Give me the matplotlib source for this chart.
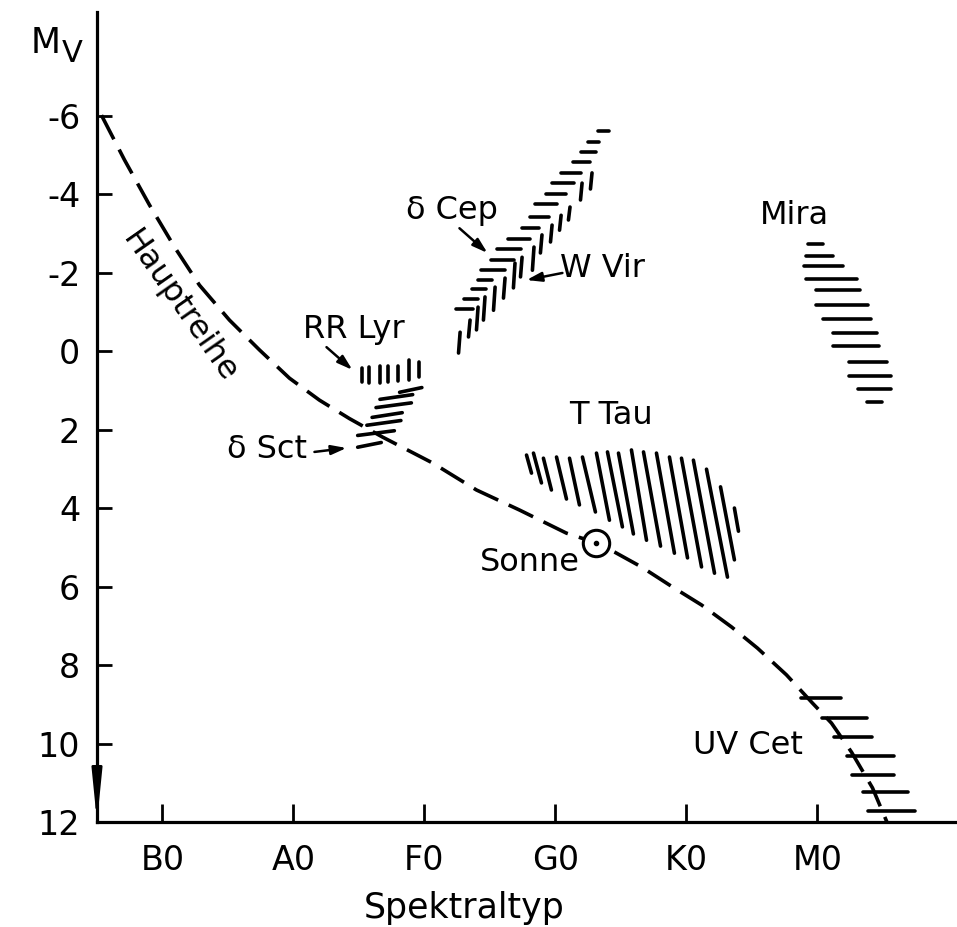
import numpy as np
import matplotlib
matplotlib.use("Agg")
import matplotlib.pyplot as plt
from matplotlib.collections import LineCollection

plt.rcParams['font.family'] = ['DejaVu Sans']
plt.rcParams['axes.unicode_minus'] = False

# ---------------- data ----------------
spectral_labels = ["B0", "A0", "F0", "G0", "K0", "M0"]
spectral_pos = [0, 1, 2, 3, 4, 5]
mag_ticks = [-6, -4, -2, 0, 2, 4, 6, 8, 10, 12]

# main sequence (Hauptreihe): spectral position, M_V
ms_x = [-0.466, -0.290, -0.099, 0.092, 0.282, 0.511, 0.740, 0.969, 1.198, 1.427,
        1.679, 2.061, 2.397, 2.725, 3.084, 3.313, 3.450, 3.656, 3.893, 4.115,
        4.344, 4.542, 4.763, 4.962, 5.107, 5.260, 5.420, 5.534]
ms_y = [-6.01, -4.87, -3.72, -2.65, -1.68, -0.79, -0.03, 0.69, 1.25, 1.72,
        2.19, 2.85, 3.54, 4.05, 4.64, 4.89, 5.12, 5.50, 6.01, 6.47,
        7.03, 7.57, 8.25, 8.97, 9.48, 10.22, 11.13, 12.03]

sun_x, sun_y = 3.313, 4.89

# RR Lyr: vertical strokes (x, top, bottom)
rr_x = [1.52, 1.58, 1.66, 1.72, 1.80, 1.88, 1.96]
rr_top = [0.43, 0.40, 0.38, 0.38, 0.38, 0.23, 0.28]
rr_bot = [0.79, 0.82, 0.82, 0.79, 0.76, 0.74, 0.66]

# delta Sct: horizontal strokes (x0, x1, y)
dsct_x0 = [1.81, 1.66, 1.63, 1.60, 1.56, 1.49, 1.49]
dsct_x1 = [1.98, 1.91, 1.90, 1.83, 1.82, 1.77, 1.67]
dsct_y = [0.99, 1.17, 1.38, 1.63, 1.83, 2.09, 2.39]

# delta Cep: horizontal strokes
dcep_x0 = [3.321, 3.252, 3.198, 3.130, 3.046, 2.977, 2.931, 2.840, 2.802,
           2.748, 2.634, 2.550, 2.504, 2.435, 2.405, 2.359, 2.298, 2.244]
dcep_x1 = [3.405, 3.336, 3.313, 3.267, 3.198, 3.145, 3.084, 3.015, 2.947,
           2.878, 2.802, 2.740, 2.687, 2.611, 2.519, 2.473, 2.405, 2.374]
dcep_y = [-5.61, -5.32, -5.07, -4.82, -4.54, -4.28, -4.00, -3.75, -3.41,
          -3.13, -2.85, -2.60, -2.32, -2.06, -1.81, -1.58, -1.32, -1.07]

# W Vir: vertical strokes (x, top, bottom)
wvir_x = [3.267, 3.191, 3.099, 3.031, 2.962, 2.885, 2.824, 2.733, 2.679,
          2.603, 2.527, 2.450, 2.397, 2.336, 2.260]
wvir_top = [-4.54, -4.28, -3.67, -3.46, -3.21, -2.96, -2.65, -2.39, -2.24,
            -1.86, -1.63, -1.38, -1.12, -0.79, -0.48]
wvir_bot = [-4.13, -3.85, -3.34, -3.08, -2.78, -2.50, -2.06, -1.89, -1.61,
            -1.35, -1.04, -0.79, -0.54, -0.36, 0.05]

# Mira: horizontal strokes
mira_x0 = [4.931, 4.916, 4.901, 4.916, 4.992, 4.992, 5.046, 5.122, 5.122,
           5.237, 5.237, 5.313, 5.382]
mira_x1 = [5.046, 5.115, 5.198, 5.305, 5.328, 5.389, 5.405, 5.458, 5.473,
           5.534, 5.565, 5.565, 5.496]
mira_y = [-2.73, -2.42, -2.17, -1.83, -1.55, -1.17, -0.81, -0.46, -0.13,
          0.28, 0.64, 0.97, 1.30]

# T Tau: slanted strokes (x0, y0) -> (x1, y1)
ttau_x0 = [2.779, 2.832, 2.908, 3.008, 3.107, 3.206, 3.313, 3.397, 3.481,
           3.580, 3.672, 3.771, 3.870, 3.962, 4.053, 4.153, 4.260, 4.366]
ttau_y0 = [2.65, 2.60, 2.73, 2.70, 2.73, 2.70, 2.60, 2.57, 2.60,
           2.52, 2.57, 2.60, 2.70, 2.73, 2.78, 3.01, 3.46, 4.00]
ttau_x1 = [2.817, 2.893, 2.969, 3.084, 3.183, 3.305, 3.412, 3.511, 3.595,
           3.695, 3.802, 3.908, 4.008, 4.115, 4.214, 4.313, 4.366, 4.397]
ttau_y1 = [3.11, 3.36, 3.54, 3.77, 3.92, 4.10, 4.31, 4.48, 4.66,
           4.82, 4.97, 5.15, 5.27, 5.50, 5.66, 5.76, 5.32, 4.59]

# UV Cet: horizontal strokes
uvcet_x0 = [4.878, 5.038, 5.130, 5.229, 5.267, 5.351, 5.389]
uvcet_x1 = [5.176, 5.382, 5.420, 5.588, 5.588, 5.695, 5.748]
uvcet_y = [8.84, 9.35, 9.83, 10.32, 10.80, 11.24, 11.72]

# ---------------- figure ----------------
fig = plt.figure(figsize=(9.57, 9.27), dpi=100)
ax = fig.add_axes([97/957, 1-822/927, 858/957, 810/927])
ax.set_xlim(-0.5, 6.05)
ax.set_ylim(12, -8.64)

LW = 2.6
for s in ['top', 'right']:
    ax.spines[s].set_visible(False)
for s in ['left', 'bottom']:
    ax.spines[s].set_linewidth(2.3)

ax.set_xticks(spectral_pos)
ax.set_xticklabels(spectral_labels)
ax.set_yticks(mag_ticks)
ax.set_yticklabels([str(t) for t in mag_ticks])
ax.tick_params(axis='x', direction='in', length=13, width=2, pad=16, labelsize=24)
ax.tick_params(axis='y', direction='in', length=11, width=2, pad=12, labelsize=24)

# main sequence
ms_line, = ax.plot(ms_x, ms_y, color='black', lw=LW, zorder=3)
ms_line.set_dashes([7.5, 3.2])

def hseg(x0, x1, y):
    return [[(a, c), (b, c)] for a, b, c in zip(x0, x1, y)]

def vseg(x, top, bot, tilt=0.012):
    return [[(a + tilt, t), (a, b)] for a, t, b in zip(x, top, bot)]

groups = [
    vseg(rr_x, rr_top, rr_bot, 0.0),
    [[(a, c + 0.06), (b, c - 0.06)] for a, b, c in zip(dsct_x0, dsct_x1, dsct_y)],
    hseg(dcep_x0, dcep_x1, dcep_y),
    vseg(wvir_x, wvir_top, wvir_bot),
    hseg(mira_x0, mira_x1, mira_y),
    [[(a, b), (c, d)] for a, b, c, d in zip(ttau_x0, ttau_y0, ttau_x1, ttau_y1)],
    hseg(uvcet_x0, uvcet_x1, uvcet_y),
]
for g in groups:
    ax.add_collection(LineCollection(g, colors='black', linewidths=LW,
                                     capstyle='round', zorder=4))

# sun symbol
ax.plot([sun_x], [sun_y], marker='o', ms=19, mfc='white', mec='black', mew=2.2, zorder=5)
ax.plot([sun_x], [sun_y], marker='o', ms=3, color='black', zorder=6)

FS = 23
txt = dict(fontsize=FS, ha='center', va='center', color='black')
ax.text(0.130, -1.12, "Hauptreihe", rotation=-55, rotation_mode='anchor', **txt)
ax.text(1.458, -0.54, "RR Lyr", **txt)
ax.text(0.80, 2.52, "δ Sct", **txt)
ax.text(2.206, -3.59, "δ Cep", **txt)
ax.text(3.359, -2.11, "W Vir", **txt)
ax.text(4.824, -3.46, "Mira", **txt)
ax.text(3.427, 1.63, "T Tau", **txt)
ax.text(2.802, 5.40, "Sonne", **txt)
ax.text(4.473, 10.04, "UV Cet", **txt)

arr = dict(arrowstyle='-|>,head_length=0.9,head_width=0.28', color='black', lw=1.8,
           shrinkA=0, shrinkB=0)
ax.annotate("", xy=(1.450, 0.48), xytext=(1.252, -0.10), arrowprops=arr)
ax.annotate("", xy=(1.405, 2.47), xytext=(1.160, 2.57), arrowprops=arr)
ax.annotate("", xy=(2.481, -2.50), xytext=(2.267, -3.13), arrowprops=arr)
ax.annotate("", xy=(2.779, -1.81), xytext=(3.053, -1.99), arrowprops=arr)

# y-axis arrowhead at bottom
ax.annotate("", xy=(-0.5, 12), xytext=(-0.5, 10.85),
            arrowprops=dict(arrowstyle='-|>,head_length=3.0,head_width=0.3',
                            color='black', lw=2, shrinkA=0, shrinkB=0),
            annotation_clip=False)

fig.text(31/957, 1-43/927, "M", fontsize=25, ha='left', va='center')
fig.text(62/957, 1-53/927, "V", fontsize=22, ha='left', va='center')
fig.text(464/957, 1-908/927, "Spektraltyp", fontsize=25, ha='center', va='center')

fig.savefig("out.png", dpi=100)
